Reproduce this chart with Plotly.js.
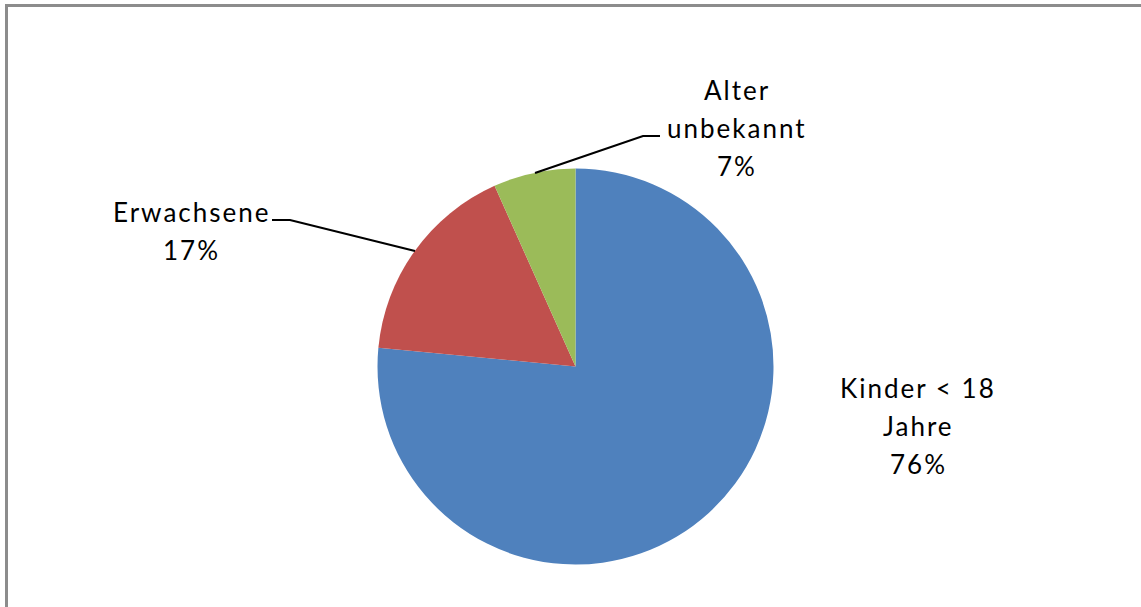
<!DOCTYPE html>
<html>
<head>
<meta charset="utf-8">
<script src="https://cdn.plot.ly/plotly-3.0.1.min.js"></script>
<style>
  html, body { margin: 0; padding: 0; background: #fff; }
  #chart { width: 1141px; height: 607px; }
  .annotation-text { letter-spacing: 2px; }
</style>
</head>
<body>
<div id="chart"></div>
<script>
// ---- data ----
const categories = ["Kinder < 18<br>Jahre", "Erwachsene", "Alter<br>unbekannt"];
const values = [76.5, 16.8, 6.7];
const percentLabels = ["76%", "17%", "7%"];
const colors = ["#4F81BD", "#C0504D", "#9BBB59"];

// ---- layout helpers (pixel -> paper) ----
const W = 1141, H = 607;
const px = x => x / W;
const py = y => 1 - y / H;

const cx = 575.5, cy = 366.5, R = 198;

// label placement: center x and first line center y, plus line spacing
const labelPos = [
  {x: 918, y: 388},
  {x: 191, y: 212},
  {x: 737, y: 90}
];
const lineGap = 38;

const annotations = [];
categories.forEach((cat, i) => {
  const lines = cat.split("<br>").concat([percentLabels[i]]);
  lines.forEach((ln, j) => {
    annotations.push({
      xref: "paper", yref: "paper",
      x: px(labelPos[i].x), y: py(labelPos[i].y + j * lineGap),
      xanchor: "center", yanchor: "middle",
      text: ln, showarrow: false,
      font: {family: "Lato, 'Open Sans', sans-serif", size: 26, color: "#000"}
    });
  });
});

function pathPx(pts) {
  return pts.map((p, k) => (k ? "L" : "M") + px(p[0]) + "," + py(p[1])).join(" ");
}

const shapes = [
  // chart border
  {type: "rect", xref: "paper", yref: "paper",
   x0: px(6.5), x1: px(1160), y0: py(5.5), y1: py(640),
   line: {color: "#8c8c8c", width: 3}, fillcolor: "rgba(0,0,0,0)", layer: "above"},
  // leader lines
  {type: "path", xref: "paper", yref: "paper",
   path: pathPx([[272, 220], [290, 220], [415, 251]]),
   line: {color: "#000", width: 2.2}, layer: "above"},
  {type: "path", xref: "paper", yref: "paper",
   path: pathPx([[535, 173], [643, 136], [660, 136]]),
   line: {color: "#000", width: 2.2}, layer: "above"}
];

const trace = {
  type: "pie",
  labels: categories,
  values: values,
  sort: false,
  direction: "clockwise",
  rotation: 0,
  textinfo: "none",
  hoverinfo: "label+percent",
  marker: {colors: colors, line: {width: 0}},
  domain: {x: [px(cx - R), px(cx + R)], y: [py(cy + R), py(cy - R)]},
  showlegend: false
};

const layout = {
  width: W, height: H,
  margin: {l: 0, r: 0, t: 0, b: 0},
  paper_bgcolor: "#ffffff",
  plot_bgcolor: "#ffffff",
  showlegend: false,
  annotations: annotations,
  shapes: shapes
};

Plotly.newPlot("chart", [trace], layout, {displayModeBar: false, staticPlot: true});
</script>
</body>
</html>
